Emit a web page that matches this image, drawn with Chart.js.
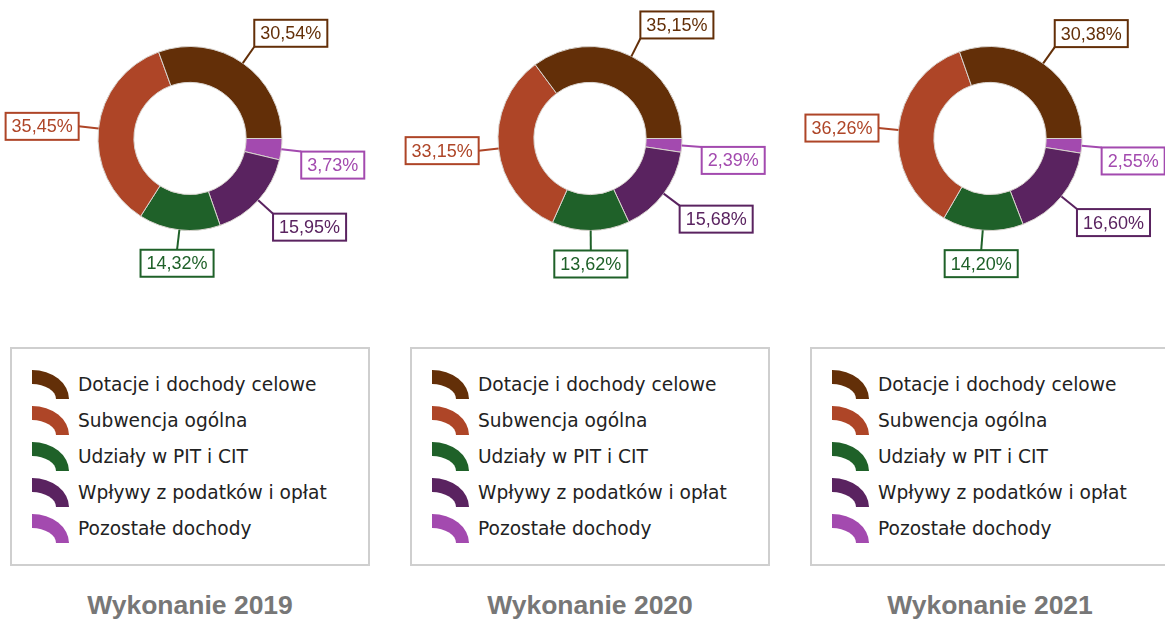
<!DOCTYPE html>
<html lang="pl">
<head>
    <meta charset="utf-8">
    <script src="https://cdn.jsdelivr.net/npm/chart.js"></script>
    <style>
        body { margin: 0; background: #fff; overflow: hidden; width: 1165px; height: 619px; }
        .panel { position: absolute; top: 0; width: 400px; height: 619px; }
        .panel canvas { position: absolute; left: 0; top: 0; }
        .legend {
            position: absolute; left: 10px; top: 347px; width: 360px; height: 219px;
            box-sizing: border-box; border: 2px solid #cfcfcf; padding: 17px 0 0 20px;
            font-family: "DejaVu Sans", Verdana, sans-serif; font-size: 18.6px; color: #222;
        }
        .legend .row { height: 36px; display: flex; align-items: center; }
        .legend .icon {
            width: 37px; height: 29px; box-sizing: border-box; margin-right: 9px;
            border-top: 14px solid; border-right: 13px solid;
            border-top-right-radius: 37px 29px;
        }
        .title {
            position: absolute; left: 0; width: 380px; top: 590px; line-height: 30px;
            text-align: center; font-family: "Liberation Sans", Arial, sans-serif;
            font-weight: bold; font-size: 26.5px; color: #777;
        }
    </style>
</head>
<body>
<div id="panels"></div>
<script>
    const categories = ['Dotacje i dochody celowe', 'Subwencja ogólna', 'Udziały w PIT i CIT', 'Wpływy z podatków i opłat', 'Pozostałe dochody'];
    const colors = ['#632f08', '#ae4527', '#1f6129', '#5a2360', '#a34aaf'];
    const years = ['2019', '2020', '2021'];
    const values2019 = [30.54, 35.45, 14.32, 15.95, 3.73];
    const values2020 = [35.15, 33.15, 13.62, 15.68, 2.39];
    const values2021 = [30.38, 36.26, 14.20, 16.60, 2.55];
    const allValues = [values2019, values2020, values2021];

    // labels in boxes with a short leader line
    const boxLabels = {
        id: 'boxLabels',
        afterDatasetsDraw(chart) {
            const ctx = chart.ctx;
            const meta = chart.getDatasetMeta(0);
            const ds = chart.data.datasets[0];
            ctx.save();
            ctx.font = '18px "Liberation Sans", Arial, sans-serif';
            meta.data.forEach(function (arc, i) {
                const p = arc.getProps(['x', 'y', 'startAngle', 'endAngle', 'outerRadius'], true);
                const mid = (p.startAngle + p.endAngle) / 2;
                const dx = Math.cos(mid), dy = Math.sin(mid);
                const x1 = p.x + p.outerRadius * dx, y1 = p.y + p.outerRadius * dy;
                const ex = p.x + (p.outerRadius + 20) * dx, ey = p.y + (p.outerRadius + 20) * dy;
                const col = ds.backgroundColor[i];
                const txt = ds.data[i].toFixed(2).replace('.', ',') + '%';
                const w = ctx.measureText(txt).width + 12, h = 27;

                let bx, by;
                if (dx > 0.3) bx = ex; else if (dx < -0.3) bx = ex - w; else bx = ex - w / 2;
                if (dy < -0.3) by = ey - h;
                else if (dy > 0.3 || (dx > 0 && dy > 0.05)) by = ey;
                else by = ey - h / 2;

                ctx.strokeStyle = col;
                ctx.lineWidth = 2;
                ctx.beginPath();
                ctx.moveTo(x1, y1);
                ctx.lineTo(ex, ey);
                ctx.stroke();

                ctx.fillStyle = '#fff';
                ctx.fillRect(bx, by, w, h);
                ctx.strokeRect(bx, by, w, h);
                ctx.fillStyle = col;
                ctx.textAlign = 'center';
                ctx.textBaseline = 'middle';
                ctx.fillText(txt, bx + w / 2, by + h / 2 + 1);
            });
            ctx.restore();
        }
    };

    const panels = document.getElementById('panels');
    years.forEach(function (year, k) {
        const panel = document.createElement('div');
        panel.className = 'panel';
        panel.style.left = (k * 400) + 'px';

        const canvas = document.createElement('canvas');
        canvas.width = 400;
        canvas.height = 290;
        panel.appendChild(canvas);

        // legend box
        const legend = document.createElement('div');
        legend.className = 'legend';
        categories.forEach(function (name, i) {
            const row = document.createElement('div');
            row.className = 'row';
            const icon = document.createElement('div');
            icon.className = 'icon';
            icon.style.borderColor = colors[i];
            const label = document.createElement('span');
            label.textContent = name;
            row.appendChild(icon);
            row.appendChild(label);
            legend.appendChild(row);
        });
        panel.appendChild(legend);

        const title = document.createElement('div');
        title.className = 'title';
        title.textContent = 'Wykonanie ' + year;
        panel.appendChild(title);
        panels.appendChild(panel);

        // slices go counterclockwise from 3 o'clock, so feed them reversed and clockwise
        const vals = allValues[k].slice().reverse();
        const cols = colors.slice().reverse();
        new Chart(canvas, {
            type: 'doughnut',
            data: {
                labels: categories.slice().reverse(),
                datasets: [{
                    data: vals,
                    backgroundColor: cols,
                    borderColor: '#d9d4cf',
                    borderWidth: 1
                }]
            },
            options: {
                responsive: false,
                animation: false,
                rotation: 90,
                cutout: '61%',
                layout: { padding: { left: 0, right: 20, top: 46, bottom: 59 } },
                plugins: {
                    legend: { display: false },
                    tooltip: { enabled: false }
                }
            },
            plugins: [boxLabels]
        });
    });
</script>
</body>
</html>
